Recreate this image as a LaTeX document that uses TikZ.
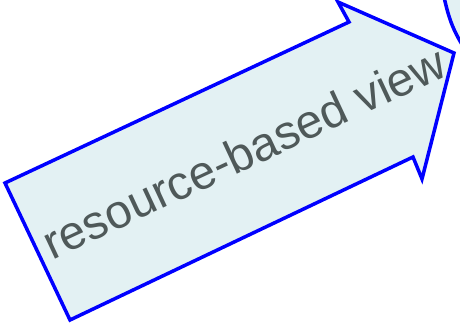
\documentclass[tikz,border=0pt]{standalone}
\usepackage{fontspec}
\setmainfont{Liberation Sans}
\definecolor{arrowfill}{HTML}{E3F1F3}
\definecolor{textgray}{HTML}{4F5959}
\begin{document}
\begin{tikzpicture}[x=1pt,y=1pt,
  shapeline/.style={draw=blue,line width=3.5pt,line join=miter,fill=arrowfill},
  label/.style={text=textgray,font=\fontsize{47.5}{52}\selectfont,rotate=25,inner sep=0pt}]
\useasboundingbox (0,0) rectangle (460,322);
\clip (0,0) rectangle (460,322);
% partial neighbouring shape at top right
\fill[arrowfill] (443,330) .. controls (448,305) and (453,292) .. (463,276) -- (470,276) -- (470,330) -- cycle;
\draw[draw=blue,line width=3.5pt] (443,330) .. controls (448,305) and (453,292) .. (463,276);
% big arrow
\coordinate (A) at (5,139);
\coordinate (B) at (349,300);
\coordinate (C) at (338,320);
\coordinate (D) at (454,269);
\coordinate (E) at (422,143);
\coordinate (F) at (413,165);
\coordinate (G) at (70,2);
\draw[shapeline] (A) -- (B) -- (C) -- (D) -- (E) -- (F) -- (G) -- cycle;
\node[label] (t) at (244,170) {resource-based view};
\end{tikzpicture}
\end{document}
